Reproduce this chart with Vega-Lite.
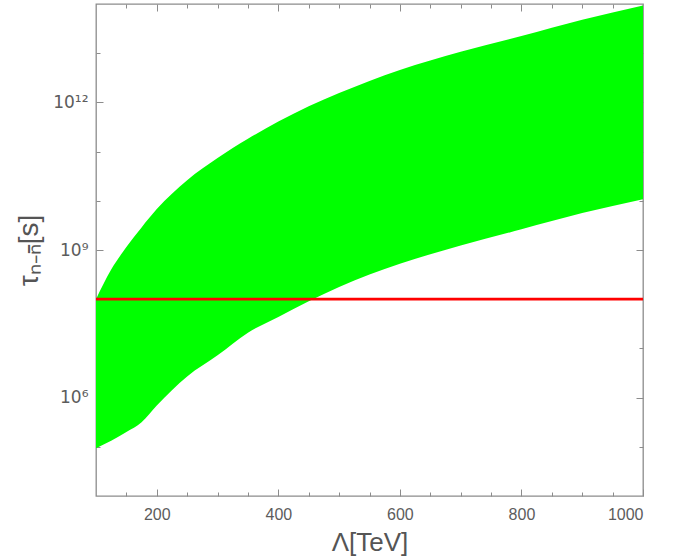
{
  "$schema": "https://vega.github.io/schema/vega-lite/v6.json",
  "width": 547,
  "height": 492,
  "autosize": {"type": "none"},
  "padding": {"left": 96, "top": 4, "right": 50, "bottom": 64},
  "background": "white",
  "config": {
    "view": {"stroke": "#8c8c8c", "strokeWidth": 1.3},
    "axis": {
      "domain": false,
      "grid": false,
      "labelFont": "Liberation Sans",
      "titleFont": "Liberation Sans",
      "labelColor": "#5c5c5c",
      "titleColor": "#555555",
      "tickColor": "#8c8c8c",
      "tickWidth": 1,
      "titleFontWeight": "normal"
    }
  },
  "datasets": {
    "band": [
      {"lambda": 100, "lower": 93300, "upper": 100000000},
      {"lambda": 125, "lower": 132000, "upper": 400000000},
      {"lambda": 150, "lower": 200000, "upper": 1150000000},
      {"lambda": 175, "lower": 316000, "upper": 2880000000},
      {"lambda": 200, "lower": 692000, "upper": 6800000000},
      {"lambda": 250, "lower": 2690000, "upper": 26300000000},
      {"lambda": 300, "lower": 7240000, "upper": 74100000000},
      {"lambda": 350, "lower": 20900000, "upper": 182000000000},
      {"lambda": 400, "lower": 43700000, "upper": 407000000000},
      {"lambda": 450, "lower": 91200000, "upper": 832000000000},
      {"lambda": 500, "lower": 178000000, "upper": 1550000000000},
      {"lambda": 600, "lower": 525000000, "upper": 4570000000000},
      {"lambda": 700, "lower": 1230000000, "upper": 10700000000000},
      {"lambda": 800, "lower": 2630000000, "upper": 22400000000000},
      {"lambda": 900, "lower": 5620000000, "upper": 47900000000000},
      {"lambda": 1000, "lower": 10700000000, "upper": 93300000000000}
    ],
    "limit": [
      {"lambda": 100, "tau": 100000000},
      {"lambda": 1000, "tau": 100000000}
    ]
  },
  "layer": [
    {
      "data": {"name": "band"},
      "mark": {"type": "area", "color": "#00ff00", "clip": true, "interpolate": "monotone"},
      "encoding": {
        "x": {
          "field": "lambda",
          "type": "quantitative",
          "scale": {"domain": [100, 1000], "nice": false, "zero": false},
          "axis": {
            "orient": "bottom",
            "title": "Λ[TeV]",
            "values": [150, 200, 250, 300, 350, 400, 450, 500, 550, 600, 650, 700, 750, 800, 850, 900, 950, 1000],
            "format": "d",
            "labelExpr": "datum.value % 200 == 0 ? datum.label : ''",
            "tickSize": {"condition": {"test": "datum.value % 200 == 0", "value": -7}, "value": -4},
            "labelPadding": 17,
            "labelFontSize": 16,
            "titleFontSize": 26,
            "titlePadding": 7
          }
        },
        "y": {
          "field": "upper",
          "type": "quantitative",
          "scale": {"type": "log", "domain": [10000, 100000000000000], "nice": false},
          "axis": {
            "orient": "left",
            "title": "τₙ₋ₙ̄[s]",
            "values": [100000, 1000000, 10000000, 100000000, 1000000000, 10000000000, 100000000000, 1000000000000, 10000000000000],
            "labelExpr": "datum.value == 1000000 ? '10⁶' : datum.value == 1000000000 ? '10⁹' : datum.value == 1000000000000 ? '10¹²' : ''",
            "tickSize": {"condition": {"test": "datum.value == 1000000 || datum.value == 1000000000 || datum.value == 1000000000000", "value": -7}, "value": -4},
            "labelPadding": 15,
            "labelFont": "DejaVu Sans",
            "labelFontSize": 17,
            "titleFontSize": 28,
            "titlePadding": 9
          }
        },
        "y2": {"field": "lower"}
      }
    },
    {
      "data": {"name": "limit"},
      "mark": {"type": "line", "color": "#ff0000", "strokeWidth": 2.7},
      "encoding": {
        "x": {
          "field": "lambda",
          "type": "quantitative",
          "scale": {"domain": [100, 1000], "nice": false, "zero": false},
          "axis": {
            "orient": "top",
            "title": null,
            "labels": false,
            "values": [150, 200, 250, 300, 350, 400, 450, 500, 550, 600, 650, 700, 750, 800, 850, 900, 950],
            "tickSize": {"condition": {"test": "datum.value % 200 == 0", "value": -7}, "value": -4}
          }
        },
        "y": {
          "field": "tau",
          "type": "quantitative",
          "scale": {"type": "log", "domain": [10000, 100000000000000], "nice": false},
          "axis": {
            "orient": "right",
            "title": null,
            "labels": false,
            "values": [100000, 1000000, 10000000, 100000000, 1000000000, 10000000000, 100000000000, 1000000000000, 10000000000000],
            "tickSize": {"condition": {"test": "datum.value == 1000000 || datum.value == 1000000000 || datum.value == 1000000000000", "value": -7}, "value": -4}
          }
        }
      }
    }
  ],
  "resolve": {"axis": {"x": "independent", "y": "independent"}}
}
